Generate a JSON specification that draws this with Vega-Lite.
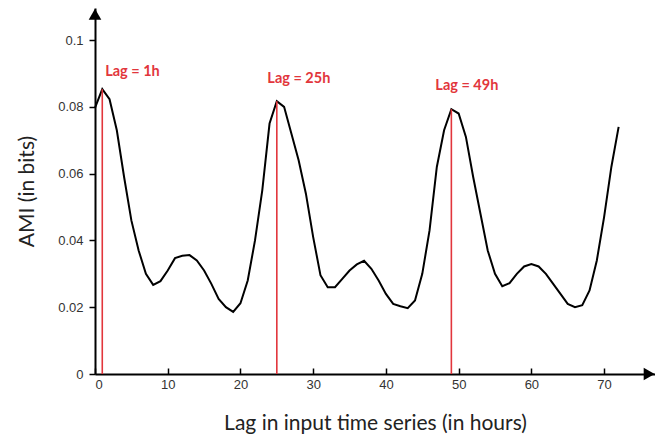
{
  "$schema": "https://vega.github.io/schema/vega-lite/v6.json",
  "width": 560,
  "height": 366,
  "autosize": "none",
  "padding": {"left": 95, "top": 8, "right": 0, "bottom": 60},
  "background": "white",
  "config": {"view": {"stroke": null}},
  "layer": [
    {
      "data": {"values": [
        {"lag": 0, "ami": 0.0797}, {"lag": 1, "ami": 0.0853}, {"lag": 2, "ami": 0.0823}, {"lag": 3, "ami": 0.073},
        {"lag": 4, "ami": 0.059}, {"lag": 5, "ami": 0.046}, {"lag": 6, "ami": 0.037}, {"lag": 7, "ami": 0.030},
        {"lag": 8, "ami": 0.0267}, {"lag": 9, "ami": 0.0278}, {"lag": 10, "ami": 0.031}, {"lag": 11, "ami": 0.0347},
        {"lag": 12, "ami": 0.0354}, {"lag": 13, "ami": 0.0356}, {"lag": 14, "ami": 0.034}, {"lag": 15, "ami": 0.031},
        {"lag": 16, "ami": 0.027}, {"lag": 17, "ami": 0.0225}, {"lag": 18, "ami": 0.020}, {"lag": 19, "ami": 0.0186},
        {"lag": 20, "ami": 0.0212}, {"lag": 21, "ami": 0.028}, {"lag": 22, "ami": 0.040}, {"lag": 23, "ami": 0.055},
        {"lag": 24, "ami": 0.075}, {"lag": 25, "ami": 0.0817}, {"lag": 26, "ami": 0.0800}, {"lag": 27, "ami": 0.072},
        {"lag": 28, "ami": 0.064}, {"lag": 29, "ami": 0.054}, {"lag": 30, "ami": 0.041}, {"lag": 31, "ami": 0.0296},
        {"lag": 32, "ami": 0.026}, {"lag": 33, "ami": 0.026}, {"lag": 34, "ami": 0.0285}, {"lag": 35, "ami": 0.031},
        {"lag": 36, "ami": 0.0328}, {"lag": 37, "ami": 0.0339}, {"lag": 38, "ami": 0.0315}, {"lag": 39, "ami": 0.028},
        {"lag": 40, "ami": 0.024}, {"lag": 41, "ami": 0.021}, {"lag": 42, "ami": 0.0203}, {"lag": 43, "ami": 0.0197},
        {"lag": 44, "ami": 0.022}, {"lag": 45, "ami": 0.030}, {"lag": 46, "ami": 0.043}, {"lag": 47, "ami": 0.062},
        {"lag": 48, "ami": 0.073}, {"lag": 49, "ami": 0.0793}, {"lag": 50, "ami": 0.0780}, {"lag": 51, "ami": 0.071},
        {"lag": 52, "ami": 0.059}, {"lag": 53, "ami": 0.048}, {"lag": 54, "ami": 0.037}, {"lag": 55, "ami": 0.030},
        {"lag": 56, "ami": 0.0263}, {"lag": 57, "ami": 0.0272}, {"lag": 58, "ami": 0.030}, {"lag": 59, "ami": 0.0322},
        {"lag": 60, "ami": 0.0329}, {"lag": 61, "ami": 0.0322}, {"lag": 62, "ami": 0.030}, {"lag": 63, "ami": 0.027},
        {"lag": 64, "ami": 0.024}, {"lag": 65, "ami": 0.021}, {"lag": 66, "ami": 0.0200}, {"lag": 67, "ami": 0.0206},
        {"lag": 68, "ami": 0.025}, {"lag": 69, "ami": 0.034}, {"lag": 70, "ami": 0.047}, {"lag": 71, "ami": 0.062},
        {"lag": 72, "ami": 0.074}
      ]},
      "mark": {"type": "line", "color": "black", "strokeWidth": 2},
      "encoding": {
        "x": {
          "field": "lag", "type": "quantitative",
          "scale": {"domain": [0, 77], "nice": false, "zero": false},
          "axis": {
            "title": "Lag in input time series (in hours)",
            "values": [0, 10, 20, 30, 40, 50, 60, 70],
            "grid": false,
            "domainColor": "black", "domainWidth": 2,
            "tickColor": "black", "tickWidth": 1.5, "tickSize": -6,
            "labelPadding": 10,
            "labelFont": "Liberation Sans", "labelFontSize": 13, "labelColor": "#333",
            "titleFont": "Lato", "titleFontSize": 21, "titleFontWeight": "normal", "titleColor": "#222",
            "titlePadding": 21
          }
        },
        "y": {
          "field": "ami", "type": "quantitative",
          "scale": {"domain": [0, 0.1096], "nice": false},
          "axis": {
            "title": "AMI (in bits)",
            "values": [0, 0.02, 0.04, 0.06, 0.08, 0.1],
            "format": "~g",
            "grid": false,
            "domainColor": "black", "domainWidth": 2,
            "tickColor": "black", "tickWidth": 1.5, "tickSize": 6,
            "labelPadding": 6,
            "labelFont": "Liberation Sans", "labelFontSize": 13, "labelColor": "#333",
            "titleFont": "Lato", "titleFontSize": 21, "titleFontWeight": "normal", "titleColor": "#222",
            "titlePadding": 20
          }
        }
      }
    },
    {
      "data": {"values": [
        {"lag": 1, "ami": 0.0853, "base": 0},
        {"lag": 25, "ami": 0.0817, "base": 0},
        {"lag": 49, "ami": 0.0793, "base": 0}
      ]},
      "mark": {"type": "rule", "color": "#e2363c", "strokeWidth": 1.6},
      "encoding": {
        "x": {"field": "lag", "type": "quantitative"},
        "y": {"field": "ami", "type": "quantitative"},
        "y2": {"field": "base"}
      }
    },
    {
      "data": {"values": [
        {"label": "Lag = 1h", "lx": 1.4, "ly": 0.0904},
        {"label": "Lag = 25h", "lx": 23.7, "ly": 0.0882},
        {"label": "Lag = 49h", "lx": 46.8, "ly": 0.0862}
      ]},
      "mark": {"type": "text", "align": "left", "baseline": "middle", "font": "Lato", "fontSize": 14.5, "fontWeight": "bold", "color": "#e2363c"},
      "encoding": {
        "x": {"field": "lx", "type": "quantitative"},
        "y": {"field": "ly", "type": "quantitative"},
        "text": {"field": "label", "type": "nominal"}
      }
    },
    {
      "data": {"values": [
        {"ax": 76.2, "ay": 0, "shape": "triangle-right"},
        {"ax": 0, "ay": 0.1077, "shape": "triangle-up"}
      ]},
      "mark": {"type": "point", "filled": true, "color": "black", "opacity": 1, "size": 160},
      "encoding": {
        "x": {"field": "ax", "type": "quantitative"},
        "y": {"field": "ay", "type": "quantitative"},
        "shape": {"field": "shape", "type": "nominal", "scale": null, "legend": null}
      }
    }
  ]
}
